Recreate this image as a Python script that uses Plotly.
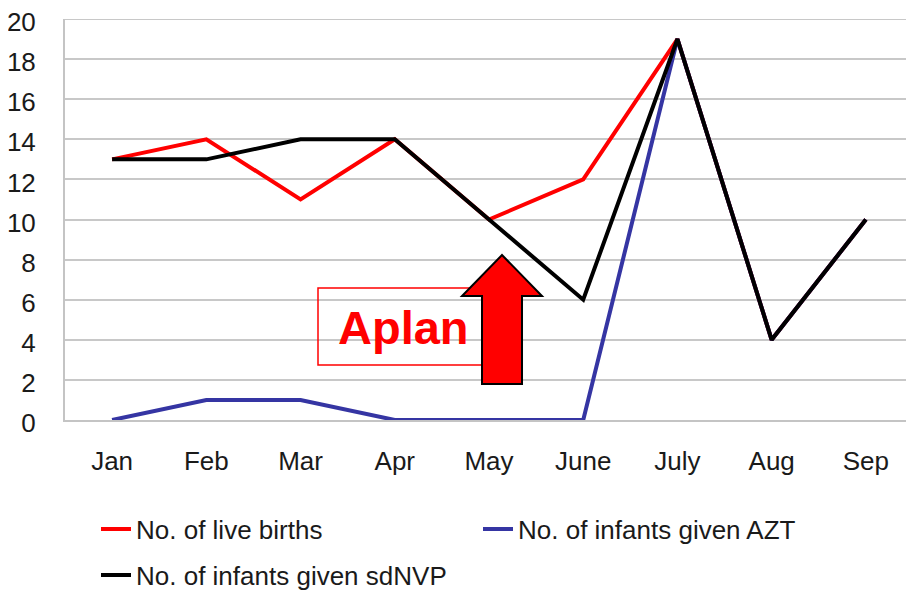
import plotly.graph_objects as go

months = ["Jan", "Feb", "Mar", "Apr", "May", "June", "July", "Aug", "Sep"]
live_births = [13, 14, 11, 14, 10, 12, 19, 4, 10]
infants_azt = [0, 1, 1, 0, 0, 0, 19, 4, 10]
infants_sdnvp = [13, 13, 14, 14, 10, 6, 19, 4, 10]
y_ticks = list(range(0, 21, 2))

# the page body adds an 8px margin, so the figure is made 8px smaller
OFF = 8
W, H = 914 - OFF, 592 - OFF
L, R, T, B = 65 - OFF, 1, 19 - OFF, 172
PW, PH = W - L - R, H - T - B


def px(x):
    """reference screen x -> paper x"""
    return (x - OFF - L) / PW


def py(y):
    """reference screen y -> paper y"""
    return (H - B - (y - OFF)) / PH


FONT = "Arial, Liberation Sans, sans-serif"
GRID = "#c8c8c8"

fig = go.Figure()
fig.add_trace(go.Scatter(x=months, y=live_births, mode="lines", name="No. of live births",
                         line=dict(color="#ff0000", width=4), legend="legend"))
fig.add_trace(go.Scatter(x=months, y=infants_azt, mode="lines", name="No. of infants given AZT",
                         line=dict(color="#3535a3", width=4), legend="legend"))
fig.add_trace(go.Scatter(x=months, y=infants_sdnvp, mode="lines", name="No. of infants given sdNVP",
                         line=dict(color="#000000", width=4), legend="legend2"))

# top gridline (plotly drops the one on the plot edge)
fig.add_shape(type="line", xref="paper", yref="y", x0=0, x1=1, y0=max(y_ticks), y1=max(y_ticks),
              line=dict(color=GRID, width=2), layer="below")

# "Aplan" box
fig.add_shape(type="rect", xref="paper", yref="paper",
              x0=px(318), x1=px(483), y0=py(365), y1=py(288),
              line=dict(color="#ff0000", width=1.5), fillcolor="rgba(255,255,255,0)")
fig.add_annotation(text="<b>Aplan</b>", xref="paper", yref="paper",
                   x=px(403), y=py(327), xanchor="center", yanchor="middle", showarrow=False,
                   font=dict(family=FONT, size=47, color="#ff0000"))

# block arrow
pts = [(502, 255), (542, 296), (522, 296), (522, 384), (482, 384), (482, 296), (462, 296)]
path = "M " + " L ".join(f"{px(a):.5f},{py(b):.5f}" for a, b in pts) + " Z"
fig.add_shape(type="path", xref="paper", yref="paper", path=path,
              fillcolor="#ff0000", line=dict(color="#000000", width=2))

fig.update_layout(
    width=W, height=H,
    margin=dict(l=L, r=R, t=T, b=B, autoexpand=False),
    paper_bgcolor="white", plot_bgcolor="white",
    font=dict(family=FONT, size=26, color="#1a1a1a"),
    showlegend=True,
    legend=dict(orientation="h", x=px(96), y=py(529), xanchor="left", yanchor="middle",
                entrywidth=337, entrywidthmode="pixels",
                font=dict(family=FONT, size=26, color="#1a1a1a"), bgcolor="rgba(0,0,0,0)"),
    legend2=dict(orientation="h", x=px(96), y=py(575), xanchor="left", yanchor="middle",
                 font=dict(family=FONT, size=26, color="#1a1a1a"), bgcolor="rgba(0,0,0,0)"),
    xaxis=dict(type="category", categoryorder="array", categoryarray=months,
               range=[-0.5, len(months) - 0.5], showgrid=False, automargin=False,
               showline=True, linecolor="#c4c4c4", linewidth=2,
               ticks="", ticklabelstandoff=17,
               tickfont=dict(family=FONT, size=26, color="#1a1a1a")),
    yaxis=dict(range=[0, 20], tickvals=y_ticks, showgrid=True, gridcolor=GRID, gridwidth=2,
               automargin=False, ticklabeloverflow="allow", ticklabelshift=3,
               zeroline=False, showline=True, linecolor="#c4c4c4", linewidth=2,
               ticks="", ticklabelstandoff=22,
               tickfont=dict(family=FONT, size=26, color="#1a1a1a")),
)

fig.write_html("out.html")
